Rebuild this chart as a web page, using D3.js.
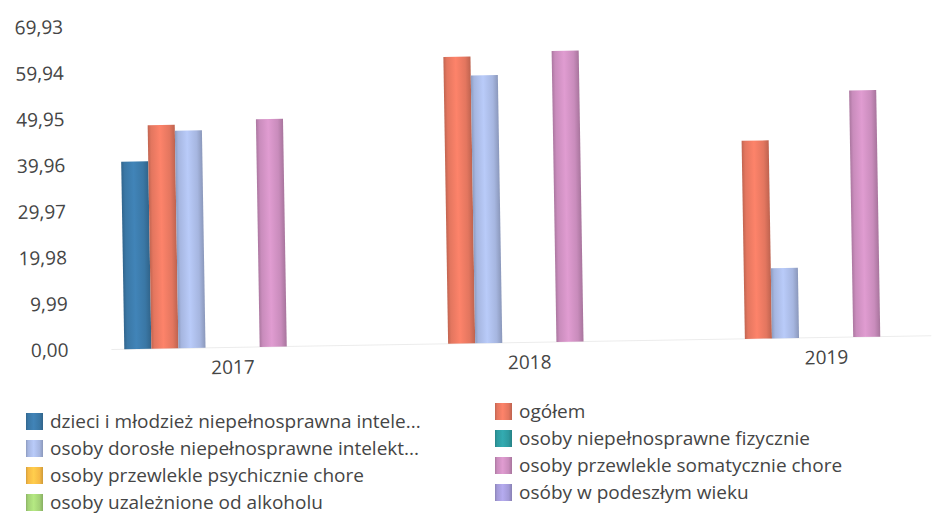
<!DOCTYPE html>
<html>
<head>
<meta charset="utf-8">
<script src="https://cdn.jsdelivr.net/npm/d3@7/dist/d3.min.js"></script>
<style>
  html, body { margin: 0; padding: 0; background: #fff; }
  svg { display: block; }
  text { font-family: "Open Sans", sans-serif; fill: #454545; }
</style>
</head>
<body>
<svg id="chart" width="932" height="523"></svg>
<script>
// ---- data ----
const years = ["2017", "2018", "2019"];
const seriesNames = [
  "dzieci i młodzież niepełnosprawna intele...",
  "ogółem",
  "osoby dorosłe niepełnosprawne intelekt...",
  "osoby niepełnosprawne fizycznie",
  "osoby przewlekle psychicznie chore",
  "osoby przewlekle somatycznie chore",
  "osoby uzależnione od alkoholu",
  "osóby w podeszłym wieku"
];
const seriesColors = ["#3a77a5", "#e3765f", "#a6b6e0", "#2e9a9f", "#f6b945", "#c98cbc", "#a3d176", "#a39ad7"];
const dzieci      = [40.6, null, null];
const ogolem      = [48.4, 62.1, 42.9];
const dorosle     = [47.1, 58.0, 15.2];
const fizycznie   = [null, null, null];
const psychicznie = [null, null, null];
const somatycznie = [49.3, 63.0, 53.4];
const alkohol     = [null, null, null];
const podeszly    = [null, null, null];
const seriesValues = [dzieci, ogolem, dorosle, fizycznie, psychicznie, somatycznie, alkohol, podeszly];
const yTicks = [0, 9.99, 19.98, 29.97, 39.96, 49.95, 59.94, 69.93];

// ---- layout ----
const svg = d3.select("#chart");
const root = svg.append("g").attr("transform", "rotate(-0.95 466 261)");

const x0 = d3.scaleBand().domain(years).range([111, 945]).paddingInner(0.27).paddingOuter(0.04);
const x1 = d3.scaleBand().domain(d3.range(seriesNames.length)).range([0, x0.bandwidth()]).padding(0);
const y = d3.scaleLinear().domain([0, 69.93]).range([343.5, 20.5]);

// gradients (cylinder look)
const defs = svg.append("defs");
seriesColors.forEach((c, i) => {
  const g = defs.append("linearGradient").attr("id", "grad" + i)
    .attr("x1", "0%").attr("x2", "100%").attr("y1", "0%").attr("y2", "0%");
  const base = d3.color(c);
  g.append("stop").attr("offset", "0%").attr("stop-color", base.darker(0.45));
  g.append("stop").attr("offset", "12%").attr("stop-color", base);
  g.append("stop").attr("offset", "45%").attr("stop-color", base.brighter(0.3));
  g.append("stop").attr("offset", "80%").attr("stop-color", base);
  g.append("stop").attr("offset", "100%").attr("stop-color", base.darker(0.5));
});

// y axis labels
const yAxis = d3.axisLeft(y).tickValues(yTicks).tickSize(0).tickPadding(0)
  .tickFormat(d => d3.format(".2f")(d).replace(".", ","));
const ya = root.append("g").attr("transform", "translate(67,0)").call(yAxis);
ya.select(".domain").remove();
ya.selectAll("text").style("font-size", "19px").style("font-family", "'Open Sans', sans-serif").attr("fill", "#454545");

// faint baseline
root.append("line").attr("x1", 110).attr("x2", 930).attr("y1", y(0)).attr("y2", y(0))
  .attr("stroke", "#ececec").attr("stroke-width", 1);

// bars
const groups = root.append("g").selectAll("g").data(years).join("g")
  .attr("transform", d => `translate(${x0(d)},0)`);
groups.selectAll("rect")
  .data((yr, yi) => seriesValues.map((vals, si) => ({ si, v: vals[yi] })).filter(d => d.v != null))
  .join("rect")
  .attr("x", d => x1(d.si))
  .attr("width", x1.bandwidth())
  .attr("y", d => y(d.v))
  .attr("height", d => y(0) - y(d.v))
  .attr("fill", d => `url(#grad${d.si})`);

// x axis labels
const xAxis = d3.axisBottom(x0).tickSize(0).tickPadding(13);
const xa = root.append("g").attr("transform", `translate(0,${y(0)})`).call(xAxis);
xa.select(".domain").remove();
xa.selectAll("text").style("font-size", "19px").style("font-family", "'Open Sans', sans-serif").attr("fill", "#454545");

// legend (two columns, row-major); columns offset to follow the slight tilt
const legend = svg.append("g");
const colX = [26, 495];
const colY = [421, 411];
const rowStep = 27;
seriesNames.forEach((name, i) => {
  const col = i % 2, row = Math.floor(i / 2);
  const g = legend.append("g").attr("transform", `translate(${colX[col]},${colY[col] + row * rowStep})`);
  g.append("rect").attr("x", 0).attr("y", -8).attr("width", 17).attr("height", 17)
    .attr("fill", `url(#grad${i})`);
  g.append("text").attr("x", 24).attr("y", 0).attr("dy", "0.35em")
    .style("font-size", "19px").text(name);
});
</script>
</body>
</html>
